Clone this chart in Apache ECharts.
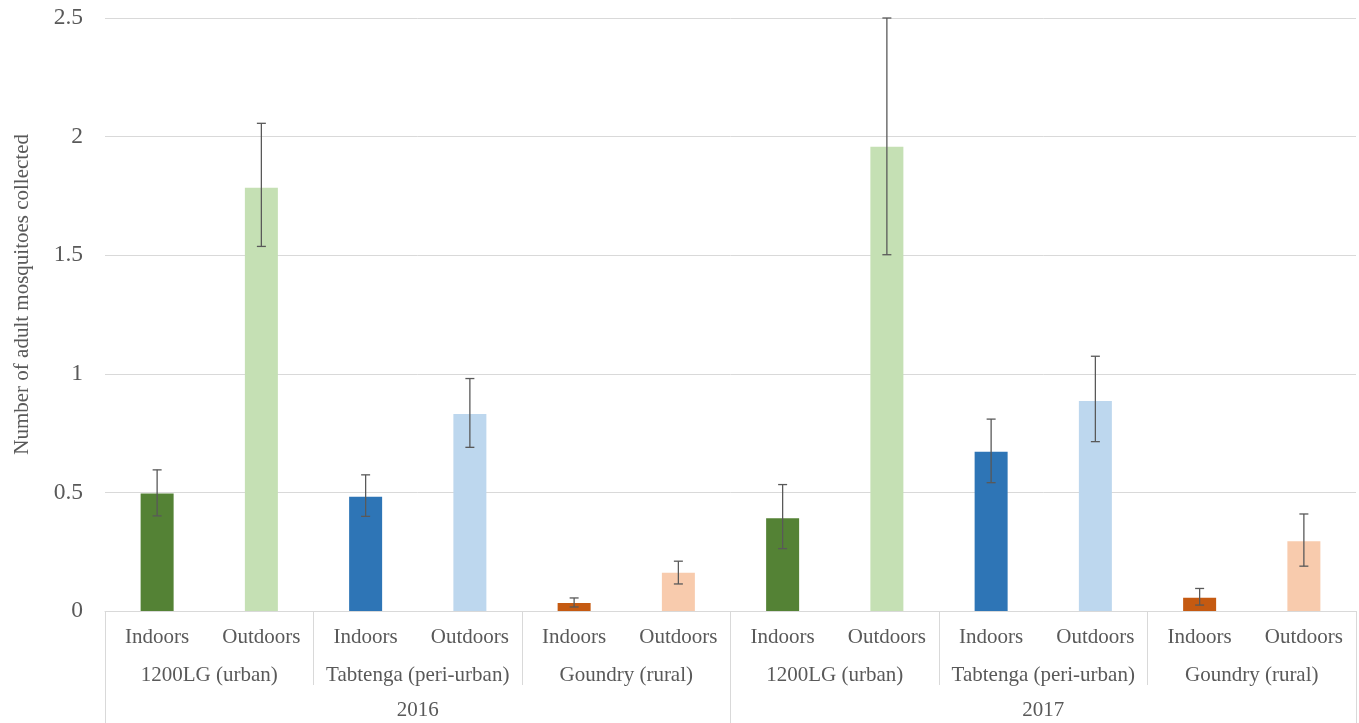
<!DOCTYPE html>
<html>
<head>
<meta charset="utf-8">
<script src="https://cdn.jsdelivr.net/npm/echarts@6/dist/echarts.min.js"></script>
<style>
html,body{margin:0;padding:0;background:#fff;}
#chart{width:1359px;height:723px;}
</style>
</head>
<body>
<div id="chart"></div>
<script>
// ---- data ----
const locations = ['Indoors','Outdoors','Indoors','Outdoors','Indoors','Outdoors','Indoors','Outdoors','Indoors','Outdoors','Indoors','Outdoors'];
const sites = ['1200LG (urban)','Tabtenga (peri-urban)','Goundry (rural)','1200LG (urban)','Tabtenga (peri-urban)','Goundry (rural)'];
const years = ['2016','2017'];
const means = [0.495, 1.784, 0.482, 0.830, 0.034, 0.161, 0.391, 1.957, 0.671, 0.885, 0.056, 0.294];
const errLow = [0.401, 1.537, 0.399, 0.690, 0.017, 0.114, 0.263, 1.502, 0.541, 0.714, 0.025, 0.189];
const errHigh = [0.595, 2.056, 0.574, 0.980, 0.055, 0.210, 0.533, 2.500, 0.809, 1.074, 0.095, 0.409];
const yTicks = {min: 0, max: 2.5, interval: 0.5};
const yTitle = 'Number of adult mosquitoes collected';

// ---- style ----
const barColors = ['#548235','#C5E0B4','#2E75B6','#BDD7EE','#C55A11','#F8CBAD'];
const FONT = '"Liberation Serif","Times New Roman",serif';
const TXT = '#595959';
const LINE = '#d9d9d9';

const chart = echarts.init(document.getElementById('chart'));
const barData = means.map((v, i) => ({value: v, itemStyle: {color: barColors[i % 6]}}));
const errData = means.map((v, i) => [i, errLow[i], errHigh[i]]);

chart.setOption({
  animation: false,
  backgroundColor: '#fff',
  grid: {left: 105, right: 3, top: 18, bottom: 112, containLabel: false},
  xAxis: [
    {
      type: 'category', data: locations, position: 'bottom',
      axisLine: {show: true, lineStyle: {color: LINE, width: 1}},
      axisTick: {show: false},
      axisLabel: {fontFamily: FONT, fontSize: 21, color: TXT, margin: 16, interval: 0}
    },
    {
      type: 'category', data: sites, position: 'bottom',
      axisLine: {show: false},
      axisTick: {show: true, length: 74, interval: 0, lineStyle: {color: LINE, width: 1}},
      axisLabel: {fontFamily: FONT, fontSize: 21, color: TXT, margin: 54, interval: 0}
    },
    {
      type: 'category', data: years, position: 'bottom',
      axisLine: {show: false},
      axisTick: {show: true, length: 112, interval: 0, lineStyle: {color: LINE, width: 1}},
      axisLabel: {fontFamily: FONT, fontSize: 21, color: TXT, margin: 89, interval: 0}
    }
  ],
  yAxis: {
    type: 'value', min: yTicks.min, max: yTicks.max, interval: yTicks.interval,
    axisLine: {show: false}, axisTick: {show: false},
    splitLine: {show: true, lineStyle: {color: LINE, width: 1}},
    axisLabel: {fontFamily: FONT, fontSize: 23.5, color: TXT, margin: 22}
  },
  graphic: [{
    type: 'text', left: 12, top: 134,
    rotation: Math.PI / 2,
    style: {text: yTitle, font: '21px ' + FONT, fill: TXT}
  }],
  series: [
    {
      type: 'bar', xAxisIndex: 0, yAxisIndex: 0, data: barData, barWidth: 33
    },
    {
      type: 'custom', xAxisIndex: 0, yAxisIndex: 0, data: errData, clip: false, z: 10,
      encode: {x: 0, y: [1, 2]},
      renderItem: function (params, api) {
        const x = api.value(0);
        const lo = api.coord([x, api.value(1)]);
        const hi = api.coord([x, api.value(2)]);
        const hw = 4.5;
        const st = {stroke: '#595959', lineWidth: 1.3, fill: null};
        return {
          type: 'group',
          children: [
            {type: 'line', shape: {x1: lo[0], y1: lo[1], x2: hi[0], y2: hi[1]}, style: st},
            {type: 'line', shape: {x1: lo[0] - hw, y1: lo[1], x2: lo[0] + hw, y2: lo[1]}, style: st},
            {type: 'line', shape: {x1: hi[0] - hw, y1: hi[1], x2: hi[0] + hw, y2: hi[1]}, style: st}
          ]
        };
      }
    }
  ]
});
</script>
</body>
</html>
